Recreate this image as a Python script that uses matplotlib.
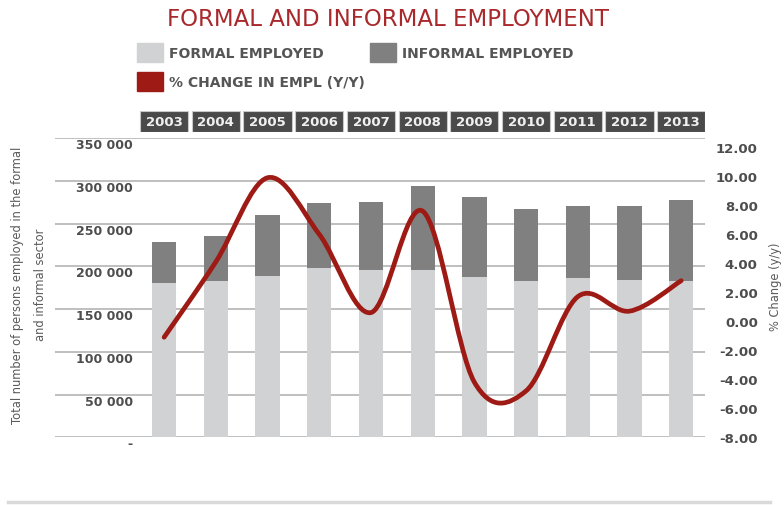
import numpy as np
import matplotlib
matplotlib.use("Agg")
import matplotlib.pyplot as plt
from matplotlib.path import Path
from matplotlib.patches import PathPatch, Patch
from matplotlib.lines import Line2D

# Data
years = ['2003', '2004', '2005', '2006', '2007', '2008', '2009', '2010', '2011', '2012', '2013']
formal = [181000, 182500, 189000, 198000, 196000, 196000, 188000, 182500, 186000, 184000, 182500]
informal = [48000, 53500, 71000, 76000, 79000, 98500, 93000, 84500, 84500, 86500, 95000]
pct_change = [-1.1, 4.1, 9.9, 6.0, 0.6, 7.6, -4.2, -4.8, 1.7, 0.7, 2.8]
left_ticks = [0, 50000, 100000, 150000, 200000, 250000, 300000, 350000]
right_ticks = [-8, -6, -4, -2, 0, 2, 4, 6, 8, 10, 12]

RED = '#9e1a14'
LIGHT = '#d1d2d4'
DARK = '#808080'
TXT = '#4d4d4d'

W, H = 784, 506
fig = plt.figure(figsize=(W / 100, H / 100), dpi=100)

def fig_rect(x0, y0, x1, y1):
    # pixel box (top-left origin) -> figure fraction
    return [x0 / W, 1 - y1 / H, (x1 - x0) / W, (y1 - y0) / H]

x = np.arange(len(years))
xlim = (-2.11, 10.46)

ax = fig.add_axes(fig_rect(55, 139.3, 705, 438.3))
ax.bar(x, formal, width=0.47, color=LIGHT, zorder=2)
ax.bar(x, informal, width=0.47, bottom=formal, color=DARK, zorder=2)
ax.set_xlim(*xlim)
ax.set_ylim(0, 350000)
ax.set_xticks([])
ax.set_yticks(left_ticks)
ax.set_yticklabels(['-' if v == 0 else f'{v:,}'.replace(',', ' ') for v in left_ticks])
ax.tick_params(axis='y', length=0, pad=-56, labelsize=9, labelcolor=TXT)
for lab in ax.get_yticklabels():
    lab.set_horizontalalignment('right')
    lab.set_verticalalignment('top')
    lab.set_fontweight('bold')
ax.grid(axis='y', color='#bfbfbf', linewidth=1.4)
ax.set_axisbelow(True)
for s in ax.spines.values():
    s.set_visible(False)

# secondary axis with smoothed % change line
ax2 = ax.twinx()
ax2.set_ylim(-8, 12.62)
ax2.set_yticks(right_ticks)
ax2.set_yticklabels([f'{v:.2f}' for v in right_ticks])
ax2.tick_params(axis='y', length=0, pad=38, labelsize=9.5, labelcolor=TXT)
for lab in ax2.get_yticklabels():
    lab.set_horizontalalignment('right')
    lab.set_fontweight('bold')
for s in ax2.spines.values():
    s.set_visible(False)

pts = np.column_stack([x, pct_change]).astype(float)
ext = np.vstack([pts[0], pts, pts[-1]])
verts = [tuple(pts[0])]
codes = [Path.MOVETO]
for i in range(1, len(ext) - 2):
    p0, p1, p2, p3 = ext[i - 1], ext[i], ext[i + 1], ext[i + 2]
    verts += [tuple(p1 + (p2 - p0) / 6), tuple(p2 - (p3 - p1) / 6), tuple(p2)]
    codes += [Path.CURVE4] * 3
ax2.add_patch(PathPatch(Path(verts, codes), fill=False, edgecolor=RED,
                        linewidth=3.4, capstyle='round', joinstyle='round', zorder=3))

# axis titles
fig.text(29 / W, 1 - 285 / H, 'Total number of persons employed in the formal\nand informal sector',
         rotation=90, ha='center', va='center', fontsize=8.3, color='#5a5a5a',
         linespacing=1.9)
fig.text(775 / W, 1 - 287 / H, '% Change (y/y)', rotation=90, ha='center', va='center',
         fontsize=8.3, color='#5a5a5a')

# year header boxes
axh = fig.add_axes(fig_rect(55, 112, 705, 133), sharex=ax)
axh.bar(x, 1, width=0.93, color='#4a4a4a', edgecolor='#c8c8c8', linewidth=0.8)
for xi, yr in zip(x, years):
    axh.text(xi, 0.5, yr, ha='center', va='center', color='#f0f0f0',
             fontsize=9.5, fontweight='bold')
axh.set_ylim(0, 1)
axh.set_xlim(*xlim)
axh.axis('off')

# title and legend
fig.text(388 / W, 1 - 19 / H, 'FORMAL AND INFORMAL EMPLOYMENT', ha='center', va='center',
         fontsize=16.5, color='#a8282c')
handles = [Patch(color=LIGHT, label='FORMAL EMPLOYED'),
           Patch(color=RED, label='% CHANGE IN EMPL (Y/Y)'),
           Patch(color=DARK, label='INFORMAL EMPLOYED')]
leg = fig.legend(handles=handles, ncol=2, loc='upper left', bbox_to_anchor=(137 / W, 1 - 44 / H),
                 frameon=False, borderpad=0, borderaxespad=0, fontsize=10,
                 handlelength=1.85, handleheight=1.75, handletextpad=0.45,
                 labelspacing=0.68, columnspacing=0.4)
for t in leg.get_texts():
    t.set_color('#555555')
    t.set_fontweight('bold')

# separator at bottom
fig.add_artist(Line2D([8 / W, 770 / W], [1 - 503 / H, 1 - 503 / H], color='#d9d9d9', linewidth=2.5))

fig.savefig('out.png', dpi=100)
